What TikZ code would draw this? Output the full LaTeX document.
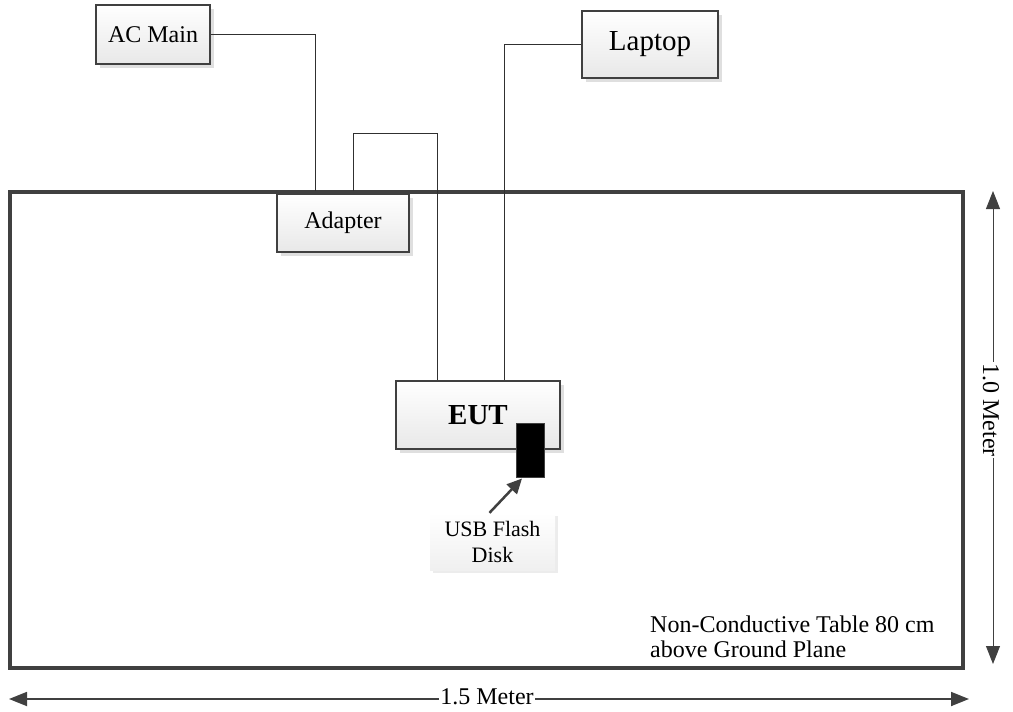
\documentclass[tikz,border=0pt]{standalone}
\usepackage{fontspec}
\setmainfont{Liberation Serif}
\usetikzlibrary{calc,shadows,arrows.meta}
\definecolor{frame}{HTML}{404040}
\definecolor{wire}{HTML}{303030}
\tikzset{
  devbox/.style={draw=frame, line width=2pt, top color=white, bottom color=gray!18,
    inner sep=0pt, align=center,
    drop shadow={shadow xshift=4pt, shadow yshift=-4pt, fill=gray!25, opacity=1}},
  lbl/.style={font=\fontsize{24}{25}\selectfont},
  wireline/.style={draw=wire, line width=0.9pt},
  dimhead/.style={-{Triangle[length=18pt,width=14pt]}, color=frame}
}
\begin{document}
\begin{tikzpicture}[x=1pt,y=-1pt]
\useasboundingbox (0,0) rectangle (1013,712);
% table
\draw[frame, line width=3.5pt] (10,192) rectangle (963,668);
\node[lbl, anchor=north west, inner sep=0pt, align=left] (tabletext) at (650,615.5)
  {Non-Conductive Table 80 cm\\above Ground Plane};
% devices
\node[devbox, lbl, minimum width=114pt, minimum height=59pt] (ac) at (153,34.5) {AC Main};
\node[devbox, lbl, minimum width=132pt, minimum height=58pt] (adapter) at (343,223) {Adapter};
\node[devbox, font=\fontsize{29}{30}\selectfont, minimum width=136pt, minimum height=67pt] (laptop) at (650,44.5) {Laptop};
\node[devbox, font=\fontsize{29}{30}\selectfont\bfseries, minimum width=164pt, minimum height=68pt] (eut) at (478,415) {EUT};
\node[draw=frame, fill=black, line width=1pt, minimum width=28pt, minimum height=54pt, inner sep=0pt] (usb) at (530,450) {};
\node[top color=white, bottom color=gray!12, inner sep=0pt, align=center,
  font=\fontsize{22}{26}\selectfont, minimum width=125pt, minimum height=57pt,
  drop shadow={shadow xshift=3pt, shadow yshift=-3pt, fill=gray!15, opacity=1}] (usblabel) at (492.5,541.5) {USB Flash\\Disk};
% wires
\draw[wireline] (ac.east) -| ($(adapter.north west)+(39,-2)$);
\draw[wireline] ($(adapter.north west)+(77,-2)$) -- ++(0,-58) -| ($(eut.north west)+(42,0)$);
\draw[wireline] (laptop.west) -| ($(eut.north west)+(109,0)$);
% usb arrow
\draw[frame, line width=2.5pt, -{Triangle[length=15pt,width=14pt]}] ($(usblabel.north)+(-3,0)$) -- ($(usb.south)+(-8,1)$);
% dimensions
\coordinate (hl) at (9,699);
\coordinate (hr) at (969,699);
\draw[gray!85!black, line width=1.8pt, dimhead] (487,699) -- (hl);
\draw[gray!85!black, line width=1.8pt, dimhead] (487,699) -- (hr);
\node[lbl, fill=white, inner sep=1pt] (hdim) at (487,697) {1.5 Meter};
\coordinate (vt) at (993,191);
\coordinate (vb) at (993,664);
\draw[wire, line width=0.9pt, dimhead] (993,410) -- (vt);
\draw[wire, line width=0.9pt, dimhead] (993,410) -- (vb);
\node[lbl, fill=white, inner sep=1pt, rotate=-90] (vdim) at (991,410) {1.0 Meter};
\end{tikzpicture}
\end{document}
